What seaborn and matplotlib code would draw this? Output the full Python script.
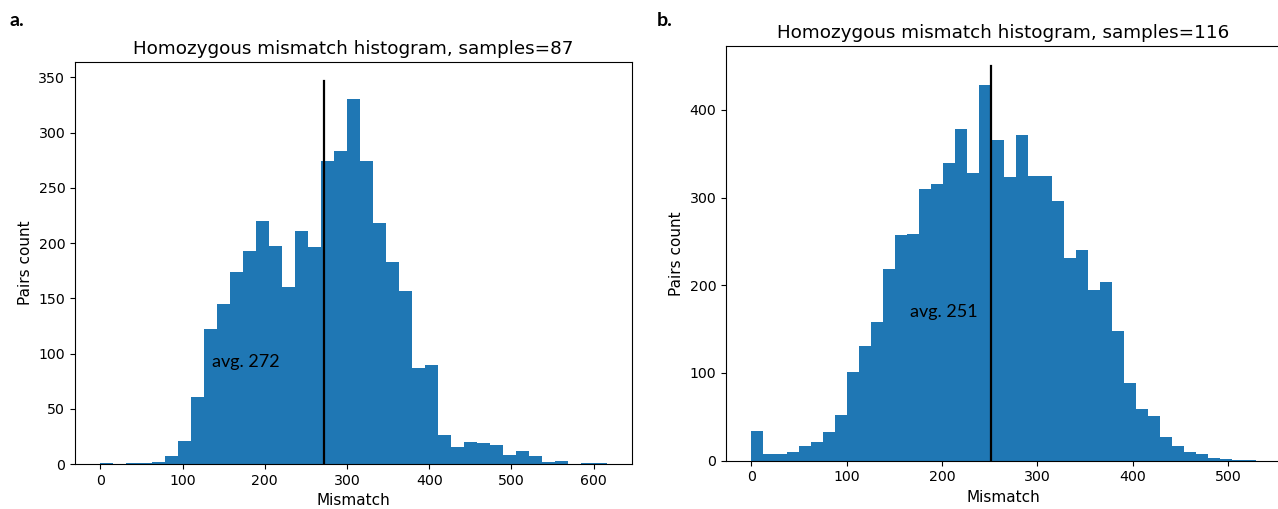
import numpy as np
import pandas as pd
import matplotlib
matplotlib.use("Agg")
import matplotlib.pyplot as plt
import seaborn as sns

# ---------------- data ----------------
# Panel a: samples = 87, 39 equal bins spanning 0..616
a_counts = [1, 0, 1, 1, 2, 7, 21, 61, 122, 145,
            174, 193, 220, 197, 160, 211, 196, 274, 283, 330,
            274, 218, 183, 157, 87, 90, 26, 15, 20, 19,
            17, 8, 12, 7, 2, 3, 0, 1, 1]
a_range = (0, 616)
a_mean = 272
a_samples = 87

# Panel b: samples = 116, 42 equal bins spanning 0..529
b_counts = [34, 7, 7, 10, 16, 21, 32, 52, 101, 131,
            158, 219, 257, 259, 310, 316, 340, 378, 328, 429,
            366, 323, 371, 325, 325, 296, 231, 240, 194, 204,
            148, 88, 59, 51, 27, 16, 10, 7, 3, 2,
            1, 1]
b_range = (0, 529)
b_mean = 251
b_samples = 116

panel_letters = ["a.", "b."]
avg_labels = ["avg. 272", "avg. 251"]
avg_pos = [(136, 92), (166, 170)]

# ---------------- figure ----------------
W, H = 1278, 509
fig = plt.figure(figsize=(W / 100, H / 100), dpi=100)


def px_axes(left, top, right, bottom):
    return fig.add_axes([left / W, 1 - bottom / H, (right - left) / W, (bottom - top) / H])


ax_a = px_axes(75, 62, 632, 464)
ax_b = px_axes(726, 46, 1281, 460.5)


def draw(ax, counts, rng, mean, samples, avg_text, avg_xy):
    n = len(counts)
    edges = np.linspace(rng[0], rng[1], n + 1)
    centers = (edges[:-1] + edges[1:]) / 2
    df = pd.DataFrame({"mismatch": centers, "count": counts})
    sns.histplot(data=df, x="mismatch", weights="count", bins=n, binrange=rng,
                 ax=ax, color="#1f77b4", alpha=1, linewidth=0, edgecolor="none")
    top = ax.get_ylim()[1]
    ax.plot([mean, mean], [0, top], color="black", lw=1.6)
    ax.set_title(f"Homozygous mismatch histogram, samples={samples}", fontsize=13.2)
    ax.set_xlabel("Mismatch", fontsize=11)
    ax.set_ylabel("Pairs count", fontsize=11)
    ax.tick_params(labelsize=10.2)
    ax.text(avg_xy[0], avg_xy[1], avg_text, ha="left", va="center",
            fontsize=13, family=["Lato", "DejaVu Sans"])


draw(ax_a, a_counts, a_range, a_mean, a_samples, avg_labels[0], avg_pos[0])
draw(ax_b, b_counts, b_range, b_mean, b_samples, avg_labels[1], avg_pos[1])
# the right edge of panel b falls outside the picture in the reference
ax_b.spines["right"].set_visible(False)

fig.text(10 / W, 1 - 20 / H, panel_letters[0], ha="left", va="center",
         fontsize=14, fontweight="bold", family=["Lato", "DejaVu Sans"])
fig.text(657 / W, 1 - 20 / H, panel_letters[1], ha="left", va="center",
         fontsize=14, fontweight="bold", family=["Lato", "DejaVu Sans"])

fig.savefig("out.png", dpi=100)
